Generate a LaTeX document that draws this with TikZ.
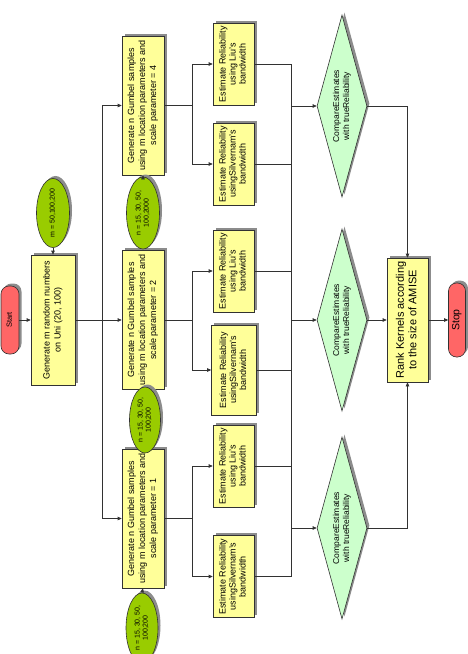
\documentclass[tikz,border=0pt]{standalone}
\usepackage{fontspec}
\setmainfont{Liberation Sans}
\usepackage{graphicx}
\usetikzlibrary{shapes.geometric,shadows,arrows.meta}
\definecolor{yfill}{RGB}{255,255,153}
\definecolor{gfill}{RGB}{153,204,0}
\definecolor{dfill}{RGB}{204,255,204}
\definecolor{rfill}{RGB}{255,102,102}
\definecolor{lnc}{RGB}{50,50,50}
\newcommand{\vtxt}[3]{\rotatebox{90}{\fontsize{#1}{#2}\selectfont\begin{tabular}{@{}c@{}}#3\end{tabular}}}
\begin{document}
\begin{tikzpicture}[x=1pt,y=-1pt,
  shd/.style={drop shadow={shadow xshift=2.5pt,shadow yshift=2.5pt,fill=black!45,opacity=1}},
  ybox/.style={rectangle,draw=lnc,line width=0.6pt,fill=yfill,inner sep=0pt,shd},
  term/.style={rectangle,rounded corners=8pt,draw=lnc,line width=0.6pt,fill=rfill,inner sep=0pt,shd},
  gell/.style={ellipse,draw=lnc,line width=0.6pt,fill=gfill,inner sep=0pt,shd},
  cmp/.style={diamond,draw=lnc,line width=0.6pt,fill=dfill,inner sep=0pt,shape aspect=0.275,
    minimum width=50pt,minimum height=182pt,shd},
  gum/.style={ybox,minimum width=42pt,minimum height=139pt},
  est/.style={ybox,minimum width=41pt,minimum height=82pt},
  ln/.style={draw=lnc,line width=0.6pt},
  ar/.style={ln,-{Triangle[length=4pt,width=3.5pt]}}]
\clip (0,0) rectangle (468,654);
% nodes
\node[term,minimum width=18pt,minimum height=68pt] (start) at (10,320) {\vtxt{7.5}{9}{Start}};
\node[ybox,minimum width=44pt,minimum height=130pt] (genm) at (53,320) {\vtxt{9}{11}{Generate m random numbers\\on Uni (20, 100)}};
\node[gell,minimum width=33pt,minimum height=67pt] (ellm) at (53,213) {\vtxt{7}{8}{m = 50,100,200}};

\node[gum] (g4) at (143,105.5) {\vtxt{9}{11}{Generate n Gumbel samples\\using m location parameters and\\scale parameter = 4}};
\node[gum] (g2) at (143,320) {\vtxt{9}{11}{Generate n Gumbel samples\\using m location parameters and\\scale parameter = 2}};
\node[gum] (g1) at (143,518.5) {\vtxt{9}{11}{Generate n Gumbel samples\\using m location parameters and\\scale parameter = 1}};

\node[gell,minimum width=33pt,minimum height=72pt] (n4) at (143,213) {\vtxt{7}{8}{n = 15, 30, 50,\\100,2000}};
\node[gell,minimum width=31pt,minimum height=66pt] (n2) at (145,420) {\vtxt{7}{8}{n = 15, 30, 50,\\100,200}};
\node[gell,minimum width=32pt,minimum height=70pt] (n1) at (142,628) {\vtxt{7}{8}{n = 15, 30, 50,\\100,200}};

\node[est] (liu4) at (233.5,64) {\vtxt{9}{10}{Estimate Reliability\\using Liu's\\bandwidth}};
\node[est] (silv4) at (233.5,164) {\vtxt{9}{10}{Estimate Reliability\\usingSilvernam's\\bandwidth}};
\node[est] (liu2) at (233.5,271) {\vtxt{9}{10}{Estimate Reliability\\using Liu's\\bandwidth}};
\node[est,minimum width=45pt,minimum height=90pt] (silv2) at (234,370) {\vtxt{9}{10}{Estimate Reliability\\usingSilvernam's\\bandwidth}};
\node[est] (liu1) at (233.5,466) {\vtxt{9}{10}{Estimate Reliability\\using Liu's\\bandwidth}};
\node[est] (silv1) at (233.5,576.5) {\vtxt{9}{10}{Estimate Reliability\\usingSilvernam's\\bandwidth}};

\node[cmp] (c4) at (342,106) {\vtxt{8.5}{10}{CompareEstimates\\with trueReliability}};
\node[cmp] (c2) at (342,320) {\vtxt{8.5}{10}{CompareEstimates\\with trueReliability}};
\node[cmp] (c1) at (342,528) {\vtxt{8.5}{10}{CompareEstimates\\with trueReliability}};

\node[ybox,minimum width=41pt,minimum height=124pt] (rank) at (407.5,320) {\vtxt{11}{12.5}{Rank Kernels according\\to the size of AMISE}};
\node[term,minimum width=17pt,minimum height=74pt] (stop) at (457,320) {\vtxt{10.5}{12}{Stop}};

% bus coordinates
\coordinate (b1) at (102,0);
\coordinate (b2) at (192,0);
\coordinate (b3) at (291,0);

% connectors
\draw[ar] (start) -- (genm);
\draw[ar] (ellm) -- (genm);
\draw[ln] (genm.east) -- (genm.east -| b1);
\draw[ln] (g4.west -| b1) -- (g1.west -| b1);
\draw[ar] (g4.west -| b1) -- (g4.west);
\draw[ar] (g2.west -| b1) -- (g2.west);
\draw[ar] (g1.west -| b1) -- (g1.west);
\draw[ar] (n4.north) -- (g4.south);
\draw[ar] (n1.north) -- (g1.south);

\draw[ln] (g4.east) -- (g4.east -| b2);
\draw[ln] (liu4.west -| b2) -- (silv4.west -| b2);
\draw[ar] (liu4.west -| b2) -- (liu4.west);
\draw[ar] (silv4.west -| b2) -- (silv4.west);
\draw[ln] (g2.east) -- (g2.east -| b2);
\draw[ln] (liu2.west -| b2) -- (silv2.west -| b2);
\draw[ar] (liu2.west -| b2) -- (liu2.west);
\draw[ar] (silv2.west -| b2) -- (silv2.west);
\draw[ln] (g1.east) -- (g1.east -| b2);
\draw[ln] (liu1.west -| b2) -- (silv1.west -| b2);
\draw[ar] (liu1.west -| b2) -- (liu1.west);
\draw[ar] (silv1.west -| b2) -- (silv1.west);

\draw[ln] (liu4.east) -- (liu4.east -| b3);
\draw[ln] (silv4.east) -- (silv4.east -| b3);
\draw[ln] (liu2.east) -- (liu2.east -| b3);
\draw[ln] (silv2.east) -- (silv2.east -| b3);
\draw[ln] (liu1.east) -- (liu1.east -| b3);
\draw[ln] (silv1.east) -- (silv1.east -| b3);
\draw[ln] (liu4.east -| b3) -- (silv1.east -| b3);
\draw[ar] (c4.west -| b3) -- (c4.west);
\draw[ar] (c2.west -| b3) -- (c2.west);
\draw[ar] (c1.west -| b3) -- (c1.west);

\draw[ar] (c4.east) -| (rank.north);
\draw[ar] (c2.east) -- (rank.west);
\draw[ar] (c1.east) -| (rank.south);
\draw[ar] (rank.east) -- (stop.west);
\end{tikzpicture}
\end{document}
